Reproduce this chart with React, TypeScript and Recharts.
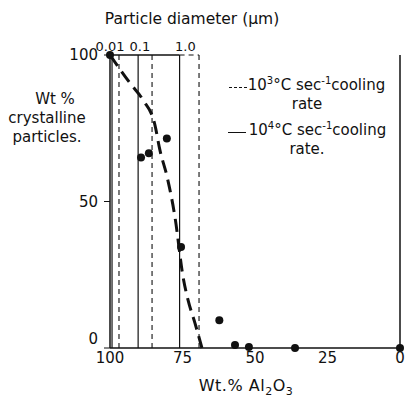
import {
  ComposedChart,
  Line,
  Scatter,
  XAxis,
  YAxis,
  ReferenceLine,
  ReferenceDot,
} from "recharts";

// measured samples: wt.% Al2O3 vs wt.% crystalline particles
const alumina = [100, 89.3, 86.6, 80.4, 75.5, 62.3, 56.9, 52.1, 36.2, 0];
const crystalline = [100, 65, 66.5, 71.5, 34.5, 9.5, 1, 0.3, 0, 0];

// hand-drawn trend through the samples
const trendAlumina = [100, 93.1, 88.6, 84.5, 82.8, 80.3, 77.6, 74.8, 73.1, 70.7, 68.3];
const trendCrystalline = [100, 90.4, 84.6, 76.1, 67.6, 58.4, 44.7, 24.2, 16.4, 8.5, 0];

// particle diameter boundaries (µm) placed on the Al2O3 scale
const diameterLabels = ["0.01", "0.1", "1.0"];
const diameterLabelPos = [100, 89.7, 74];
const fastCoolingBounds = [99.3, 90.3, 76]; // 10^4 °C/s, solid
const slowCoolingBounds = [96.9, 85.5, 69.3]; // 10^3 °C/s, dashed

const aluminaTicks = [100, 75, 50, 25, 0];
const crystallineTicks = [0, 50, 100];

const points = alumina.map((x, i) => ({ x, y: crystalline[i] }));
const trend = trendAlumina.map((x, i) => ({ x, y: trendCrystalline[i] }));

const FONT = "'DejaVu Sans', sans-serif";
const INK = "#111";

// y tick: the "0" sits a little above its tick, clear of the x labels
function YTick(props: any) {
  const { x, y, payload } = props;
  const low = payload.value === 0;
  return (
    <text
      x={x}
      y={y + (low ? -9 : 0)}
      textAnchor="end"
      dominantBaseline="central"
      fontSize={15}
      fontFamily={FONT}
      fill={INK}
    >
      {payload.value}
    </text>
  );
}

export default function App() {
  const sup = { fontSize: 10 };
  return (
    <div
      style={{
        position: "absolute",
        left: 0,
        top: 0,
        width: 407,
        height: 400,
        background: "#fff",
        fontFamily: FONT,
        color: INK,
      }}
    >
      <ComposedChart
        width={407}
        height={400}
        margin={{ top: 55, right: 7, bottom: 22, left: 60 }}
      >
        <XAxis
          xAxisId="al"
          type="number"
          dataKey="x"
          domain={[0, 100]}
          reversed
          ticks={aluminaTicks}
          height={30}
          tick={{ fontSize: 15, fill: INK, fontFamily: FONT }}
          tickSize={0}
          tickMargin={4}
          axisLine={{ stroke: INK, strokeWidth: 1.5 }}
        />
        <YAxis
          type="number"
          dataKey="y"
          domain={[0, 100]}
          ticks={crystallineTicks}
          width={50}
          tick={<YTick />}
          tickSize={6}
          tickMargin={6}
          axisLine={{ stroke: INK, strokeWidth: 1.5 }}
          tickLine={{ stroke: INK }}
        />

        {fastCoolingBounds.map((v) => (
          <ReferenceLine
            key={"f" + v}
            xAxisId="al"
            x={v}
            stroke={INK}
            strokeWidth={1.2}
          />
        ))}
        {slowCoolingBounds.map((v) => (
          <ReferenceLine
            key={"s" + v}
            xAxisId="al"
            x={v}
            stroke={INK}
            strokeWidth={1.1}
            strokeDasharray="5 4"
          />
        ))}
        <ReferenceLine
          xAxisId="al"
          segment={[
            { x: 100, y: 100 },
            { x: fastCoolingBounds[2], y: 100 },
          ]}
          stroke={INK}
          strokeWidth={1.3}
        />
        <ReferenceLine
          xAxisId="al"
          segment={[
            { x: fastCoolingBounds[2], y: 100 },
            { x: slowCoolingBounds[2], y: 100 },
          ]}
          stroke={INK}
          strokeWidth={1.1}
          strokeDasharray="5 4"
        />
        <ReferenceLine xAxisId="al" x={0} stroke={INK} strokeWidth={1.5} />

        {diameterLabelPos.map((pos, i) => (
          <ReferenceDot
            key={diameterLabels[i]}
            xAxisId="al"
            x={pos}
            y={100}
            r={0}
            stroke="none"
            fill="none"
            label={{
              value: diameterLabels[i],
              position: "top",
              offset: 4,
              fontSize: 13,
              fill: INK,
              fontFamily: FONT,
            }}
          />
        ))}

        <Line
          xAxisId="al"
          data={trend}
          dataKey="y"
          type="monotone"
          stroke={INK}
          strokeWidth={3}
          strokeDasharray="13 7"
          dot={false}
          activeDot={false}
          isAnimationActive={false}
        />
        <Scatter
          xAxisId="al"
          data={points}
          dataKey="y"
          fill={INK}
          shape={(p: any) => <circle cx={p.cx} cy={p.cy} r={4} fill={INK} />}
          isAnimationActive={false}
        />
      </ComposedChart>

      <div
        style={{
          position: "absolute",
          left: 192,
          top: 10,
          transform: "translateX(-50%)",
          fontSize: 15.5,
          whiteSpace: "nowrap",
        }}
      >
        Particle diameter (μm)
      </div>

      <div style={{ position: "absolute", left: 0, top: 90, width: 94, fontSize: 15, lineHeight: "19px", textAlign: "center" }}>
        <div style={{ paddingLeft: 16 }}>Wt %</div>
        <div>crystalline</div>
        <div>particles.</div>
      </div>

      <div style={{ position: "absolute", left: 222, top: 71, width: 170, fontSize: 15, lineHeight: "19px", textAlign: "center" }}>
        <div style={{ whiteSpace: "nowrap" }}>
          <span style={{ display: "inline-block", width: 18, borderBottom: "1.5px dashed #111", marginRight: 1, verticalAlign: 2 }} />
          10<sup style={sup}>3</sup>°C sec<sup style={sup}>-1</sup>cooling
        </div>
        <div>rate</div>
        <div style={{ whiteSpace: "nowrap", marginTop: 2 }}>
          <span style={{ display: "inline-block", width: 18, borderBottom: "1.5px solid #111", marginRight: 3, verticalAlign: 2 }} />
          10<sup style={sup}>4</sup>°C sec<sup style={sup}>-1</sup>cooling
        </div>
        <div>rate.</div>
      </div>

      <div
        style={{
          position: "absolute",
          left: 246,
          top: 376,
          transform: "translateX(-50%)",
          fontSize: 16,
          letterSpacing: 0.5,
          whiteSpace: "nowrap",
        }}
      >
        Wt.% Al<sub style={{ fontSize: 11 }}>2</sub>O<sub style={{ fontSize: 11 }}>3</sub>
      </div>
    </div>
  );
}
